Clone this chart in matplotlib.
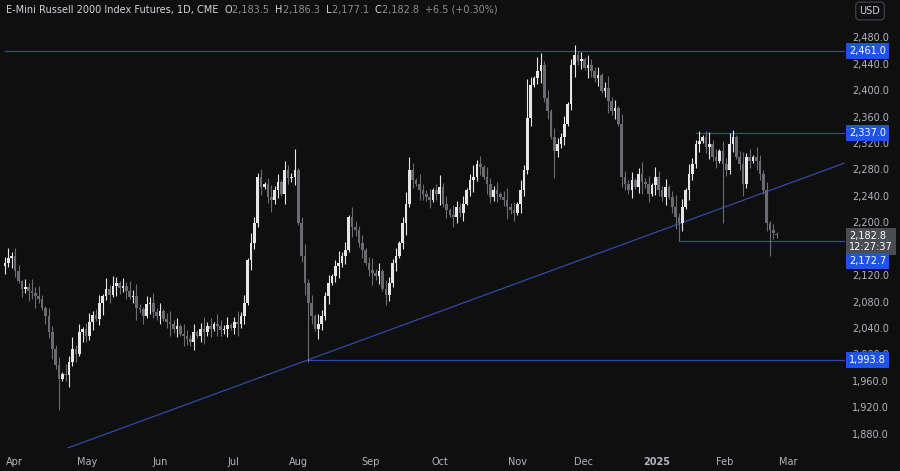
import matplotlib
matplotlib.use("Agg")
import matplotlib.pyplot as plt
import numpy as np

closes = [2140, 2148, 2150, 2128, 2112, 2100, 2104, 2098, 2095, 2090,
          2085, 2072, 2060, 2035, 2010, 1985, 1965, 1972, 1970, 1990,
          2010, 2002, 2035, 2040, 2030, 2050, 2062, 2055, 2080, 2090,
          2100, 2092, 2105, 2110, 2102, 2105, 2098, 2088, 2090, 2072,
          2070, 2060, 2078, 2080, 2066, 2060, 2068, 2055, 2050, 2048,
          2040, 2045, 2032, 2030, 2025, 2020, 2036, 2030, 2040, 2035,
          2045, 2040, 2048, 2045, 2038, 2040, 2046, 2042, 2050, 2048,
          2060, 2080, 2145, 2170, 2200, 2270, 2255, 2260, 2240, 2235,
          2250, 2262, 2245, 2280, 2268, 2270, 2280, 2200, 2150, 2110,
          2080, 2060, 2040, 2048, 2060, 2090, 2110, 2120, 2135, 2140,
          2150, 2160, 2210, 2195, 2190, 2170, 2160, 2140, 2130, 2125,
          2120, 2128, 2100, 2092, 2110, 2140, 2150, 2170, 2200, 2230,
          2280, 2265, 2260, 2250, 2245, 2240, 2235, 2250, 2245, 2255,
          2230, 2220, 2212, 2210, 2225, 2215, 2230, 2250, 2265, 2270,
          2290, 2285, 2270, 2260, 2240, 2250, 2245, 2240, 2235, 2225,
          2220, 2215, 2230, 2250, 2280, 2360, 2410, 2420, 2430, 2440,
          2390, 2370, 2330, 2310, 2320, 2330, 2350, 2380, 2440, 2455,
          2445, 2448, 2435, 2440, 2430, 2420, 2425, 2400, 2405, 2385,
          2370, 2375, 2350, 2270, 2260, 2250, 2265, 2255, 2275, 2262,
          2260, 2245, 2258, 2270, 2250, 2240, 2255, 2240, 2225, 2210,
          2200, 2225, 2250, 2275, 2290, 2320, 2325, 2330, 2315, 2320,
          2300, 2295, 2310, 2290, 2280, 2320, 2330, 2300, 2290, 2260,
          2300, 2295, 2300, 2295, 2275, 2250, 2200, 2190, 2185, 2182.8]
first_open = 2135
# wick sizes (points / 3), one digit per candle
wick_up = ("3524314263521432415362413523416253142536214352413624153"
           "2413624153241362415324136241532413624153241362415324136"
           "2415324136241532413624153241362415324136241532413624153"
           "2413624153241362415324136241532413624153241362415324136"
           "24153241362415")
wick_dn = ("4253142536214352413624153241362415324136241532413624153"
           "2413624153241362415324136241532413624153241362415324136"
           "2415324136241532413624153241362415324136241532413624153"
           "2413624153241362415324136241532413624153241362415324136"
           "24153241362415")
extra_high = {169: 2470, 158: 2452, 120: 2300, 86: 2312, 155: 2418, 206: 2340, 215: 2337}
extra_low = {16: 1918, 90: 1990, 163: 2268, 200: 2172.7, 213: 2200, 227: 2150, 229: 2177.1}
last_open, last_high = 2183.5, 2186.3

months = ["Apr", "May", "Jun", "Jul", "Aug", "Sep", "Oct", "Nov", "Dec", "2025", "Feb", "Mar"]
month_idx = [2.8, 24.3, 46, 67.7, 87, 108.6, 129, 152, 171.8, 193.5, 213.6, 232.3]
yticks = [1880, 1920, 1960, 2000, 2040, 2080, 2120, 2160, 2200, 2240, 2280, 2320, 2360, 2400, 2440, 2480]
levels = {2461.0: 0, 2337.0: 205, 2172.7: 200, 1993.8: 89.5}
trend = [(17, 1857), (249, 2291)]

n = len(closes)
c = np.array(closes, float)
o = np.concatenate([[first_open], c[:-1]])
o[-1] = last_open
wu = np.array([int(ch) * 3 for ch in wick_up[:n]], float)
wd = np.array([int(ch) * 3 for ch in wick_dn[:n]], float)
h = np.maximum(o, c) + wu
l = np.minimum(o, c) - wd
for k, v in extra_high.items():
    h[k] = v
for k, v in extra_low.items():
    l[k] = v
h[-1] = last_high

BG = "#0f0f0f"
FS = 7.0
fig = plt.figure(figsize=(9, 4.71), dpi=100, facecolor=BG)
ax = fig.add_axes([0, 23 / 471, 845 / 900, 1 - 23 / 471])
ax.set_facecolor(BG)
x = np.arange(n)
xmax = (845 - 5) / 3.37
ax.set_xlim(-1.5, xmax)
ylo, yhi = 1860, 2538
ax.set_ylim(ylo, yhi)

up = c >= o
col = np.where(up, "#e6e6e8", "#6a6b70")
ax.vlines(x, l, h, colors=col, linewidth=0.8, zorder=3)
ax.bar(x, np.maximum(np.abs(c - o), 1.5), bottom=np.minimum(o, c), width=0.78,
       color=col, linewidth=0, zorder=4)

lc = "#2f4aa8"
for p, start in levels.items():
    ax.plot([start, xmax], [p, p], color=lc, lw=0.9, zorder=2)
ax.plot([trend[0][0], trend[1][0]], [trend[0][1], trend[1][1]], color=lc, lw=0.9, zorder=2)
ax.axis("off")

def fy(p):
    return (p - ylo) / (yhi - ylo) * (1 - 23 / 471) + 23 / 471

tc = "#b2b5be"
for t in yticks:
    fig.text(852 / 900, fy(t), f"{t:,.1f}", color=tc, fontsize=FS, va="center", ha="left")
for m, i in zip(months, month_idx):
    xf = (5 + 3.37 * i) / 900
    fig.text(xf, 9 / 471, m, color=tc, fontsize=FS, ha="center", va="center",
             fontweight="bold" if m == "2025" else "normal")

def box(p, txt, fc):
    fig.text(849 / 900, fy(p), txt, color="white", fontsize=FS, va="center", ha="left",
             bbox=dict(boxstyle="square,pad=0.3", fc=fc, ec="none"), zorder=10)

box(2461.0, "2,461.0", "#1e53e5")
box(2337.0, "2,337.0", "#1e53e5")
box(1993.8, "1,993.8", "#1e53e5")
fig.text(849 / 900, fy(2172), "2,182.8\n12:27:37", color="white", fontsize=FS,
         va="center", ha="left", linespacing=1.15,
         bbox=dict(boxstyle="square,pad=0.3", fc="#4a4c52", ec="none"), zorder=10)
box(2143, "2,172.7", "#1e53e5")

# header: chain texts
fig.canvas.draw()
r = fig.canvas.get_renderer()
parts = [("E-Mini Russell 2000 Index Futures, 1D, CME  ", "#d1d4dc"), ("O", "#d1d4dc"),
         ("2,183.5  ", "#8a8d95"), ("H", "#d1d4dc"), ("2,186.3  ", "#8a8d95"),
         ("L", "#d1d4dc"), ("2,177.1  ", "#8a8d95"), ("C", "#d1d4dc"),
         ("2,182.8  ", "#8a8d95"), ("+6.5 (+0.30%)", "#8a8d95")]
xp = 6
for s, cc in parts:
    t = fig.text(xp / 900, 1 - 10 / 471, s, color=cc, fontsize=FS, va="center")
    xp += t.get_window_extent(r).width
fig.text(870 / 900, 1 - 11 / 471, "USD", color="#d1d4dc", fontsize=FS, va="center", ha="center",
         bbox=dict(boxstyle="round,pad=0.4", fc=BG, ec="#3a3d45"))

fig.savefig("out.png", dpi=100, facecolor=BG)
